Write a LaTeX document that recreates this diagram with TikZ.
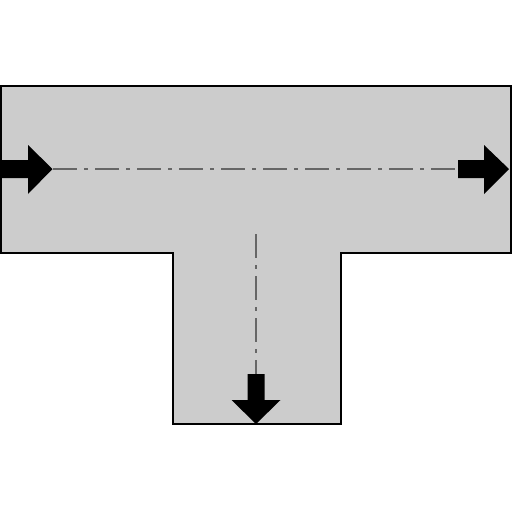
\documentclass[tikz,border=0pt]{standalone}
\begin{document}
\begin{tikzpicture}[x=1pt,y=-1pt,
  body/.style={fill=black!20,draw=black,line width=2.2pt,line join=miter},
  axis/.style={draw=black!60,line width=1.8pt,dash pattern=on 24pt off 7pt on 4pt off 7pt},
  flow/.style={fill=black,draw=none}]
\useasboundingbox (0,0) rectangle (512,512);
% T-shaped body
\path[body] (1.2,86.3) -- (510.8,86.3) -- (510.8,253) -- (341,253) -- (341,424) -- (172.7,424) -- (172.7,253) -- (1.2,253) -- cycle;
% centre lines
\coordinate (hl) at (53,169);
\coordinate (hr) at (458,169);
\coordinate (vt) at (256,234);
\coordinate (vb) at (256,374);
\draw[axis] (hl) -- (hr);
\draw[axis] (vt) -- (vb);
% inlet arrow (left)
\path[flow] (0,160) -- (28,160) -- (28,145) -- (52.5,169) -- (28,194) -- (28,178) -- (0,178) -- cycle;
% outlet arrow (right)
\path[flow] (458,160) -- (484,160) -- (484,145) -- (509,169) -- (484,194) -- (484,178) -- (458,178) -- cycle;
% outlet arrow (down)
\path[flow] (247.5,374) -- (264.5,374) -- (264.5,400) -- (280.5,400) -- (256,424) -- (231.5,400) -- (247.5,400) -- cycle;
\end{tikzpicture}
\end{document}
